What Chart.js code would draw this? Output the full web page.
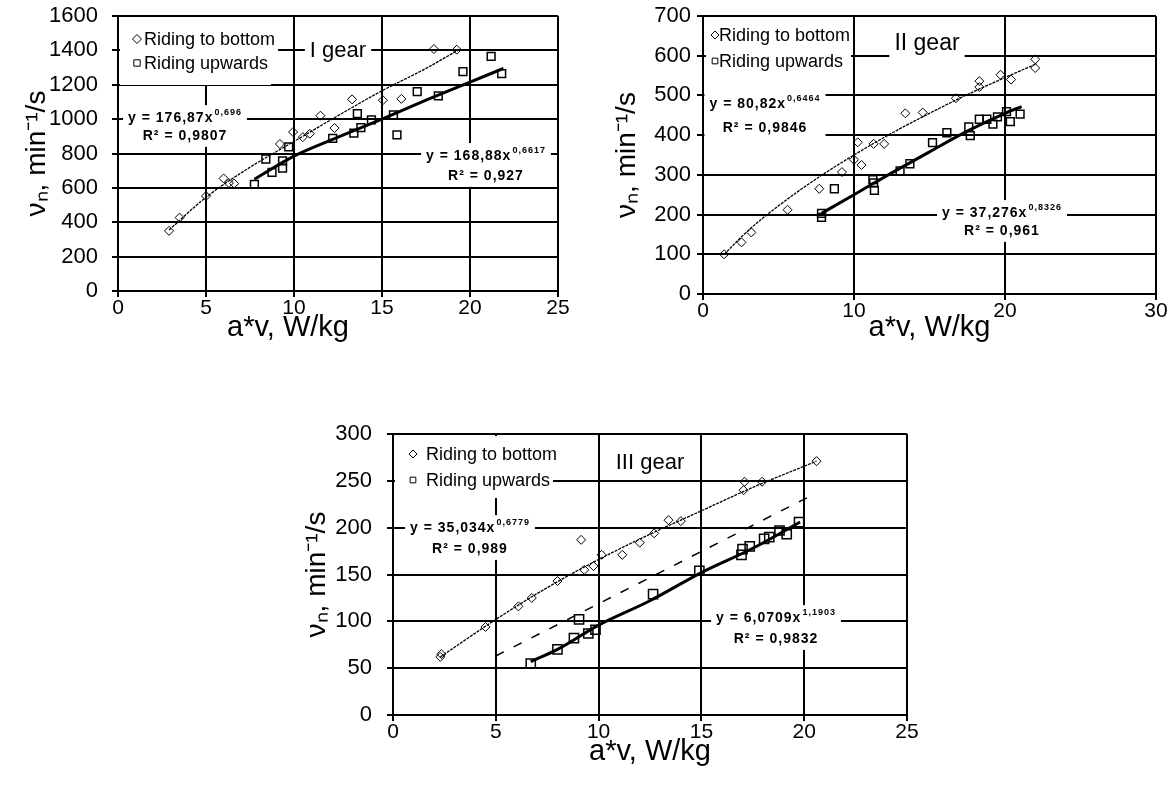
<!DOCTYPE html>
<html>
<head>
<meta charset="utf-8">
<script src="https://cdn.jsdelivr.net/npm/chart.js@4.4.1/dist/chart.umd.min.js"></script>
<style>
  html, body { margin: 0; padding: 0; background: #fff; }
  body { width: 1175px; height: 785px; position: relative; overflow: hidden; }
  canvas { position: absolute; }
</style>
</head>
<body>
<canvas id="g1" width="590" height="345" style="left:0px;top:0px;width:590px;height:345px"></canvas>
<canvas id="g2" width="575" height="345" style="left:600px;top:0px;width:575px;height:345px"></canvas>
<canvas id="g3" width="640" height="385" style="left:290px;top:400px;width:640px;height:385px"></canvas>
<script>
const FONT = '"Liberation Sans", Arial, sans-serif';

// ---- I gear ----
const g1DownX = [2.9, 3.5, 5.0, 6.0, 6.3, 6.6, 9.2, 9.95, 10.5, 10.9, 11.5, 12.3, 13.3, 15.05, 16.1, 17.95, 19.25];
const g1DownY = [350, 427, 553, 655, 628, 625, 855, 925, 895, 915, 1020, 948, 1115, 1110, 1118, 1408, 1404];
const g1UpX = [7.75, 8.4, 8.75, 9.35, 9.35, 9.7, 12.2, 13.4, 13.6, 13.8, 14.4, 15.65, 15.85, 17.0, 18.2, 19.6, 21.2, 21.8];
const g1UpY = [620, 768, 690, 715, 757, 838, 888, 918, 1032, 950, 995, 1025, 908, 1160, 1135, 1277, 1365, 1265];
const g1DownFitX = [2.9, 5, 7.5, 10, 12.5, 15, 17.5, 19.3];
const g1DownFitY = [355, 545, 720, 870, 1020, 1165, 1295, 1400];
const g1UpFitX = [7.75, 10, 12.5, 15, 17.5, 20, 21.9];
const g1UpFitY = [650, 785, 895, 1000, 1110, 1215, 1295];
const g1XTicks = [0, 5, 10, 15, 20, 25];
const g1YTicks = [0, 200, 400, 600, 800, 1000, 1200, 1400, 1600];

// ---- II gear ----
const g2DownX = [1.4, 2.55, 3.2, 5.6, 7.7, 9.2, 10.0, 10.25, 10.5, 11.3, 12.0, 13.4, 14.55, 16.75, 18.3, 18.3, 19.7, 20.4, 22.0, 22.0];
const g2DownY = [100, 130, 155, 212, 265, 307, 338, 382, 325, 378, 378, 455, 457, 493, 536, 521, 552, 540, 591, 569];
const g2UpX = [7.85, 7.85, 8.7, 11.25, 11.3, 11.35, 13.05, 13.7, 15.2, 16.15, 17.6, 17.7, 18.3, 18.8, 19.2, 19.5, 20.1, 20.35, 21.0];
const g2UpY = [193, 203, 265, 288, 280, 261, 310, 328, 381, 406, 421, 399, 440, 440, 428, 446, 459, 434, 453];
const g2DownFitX = [1.4, 3, 5, 7.5, 10, 12.5, 15, 17.5, 20, 22.1];
const g2DownFitY = [100, 160, 222, 290, 350, 405, 455, 502, 545, 580];
const g2UpFitX = [7.85, 10, 12.5, 15, 17.5, 20, 21.1];
const g2UpFitY = [203, 250, 305, 358, 410, 455, 472];
const g2XTicks = [0, 10, 20, 30];
const g2YTicks = [0, 100, 200, 300, 400, 500, 600, 700];

// ---- III gear ----
const g3DownX = [2.3, 2.35, 4.5, 6.1, 6.75, 8.0, 9.15, 9.3, 9.75, 10.15, 11.15, 12.0, 12.7, 13.4, 14.0, 17.05, 17.1, 17.95, 20.6];
const g3DownY = [62, 65, 94, 116, 125, 143, 187, 155, 159, 171, 171, 184, 194, 208, 207, 240, 249, 249, 271];
const g3UpX = [6.7, 8.0, 8.8, 9.05, 9.5, 9.85, 12.65, 14.9, 16.95, 17.0, 17.35, 18.05, 18.3, 18.8, 19.15, 19.75];
const g3UpY = [55, 70, 82, 102, 87, 91, 129, 154, 171, 177, 180, 188, 190, 197, 193, 206];
const g3DownFitX = [2.3, 5, 7.5, 10, 12.5, 15, 17.5, 20.6];
const g3DownFitY = [62, 102, 136, 166, 193, 218, 243, 271];
const g3UpFitX = [6.7, 8, 10, 12.5, 15, 17.5, 19.8];
const g3UpFitY = [57, 70, 96, 122, 152, 178, 206];
const g3DashX = [5, 20.5];
const g3DashY = [63, 236];
const g3XTicks = [0, 5, 10, 15, 20, 25];
const g3YTicks = [0, 50, 100, 150, 200, 250, 300];

const xTitle = 'a*v, W/kg';
const yTitle = 'νₙ, min⁻¹/s';

function pts(xs, ys) {
  return xs.map((x, i) => ({ x: x, y: ys[i] }));
}

// white boxes with text (legend, gear name, trend equations) drawn over the grid
const notesPlugin = {
  id: 'notes',
  beforeDatasetsDraw(chart, args, opts) {
    const ctx = chart.ctx, a = chart.chartArea;
    ctx.save();
    ctx.textBaseline = 'middle';

    // legend
    const L = opts.legend;
    const items = chart.data.datasets.filter(d => d.inLegend);
    ctx.font = L.size + 'px ' + FONT;
    items.forEach((d, i) => {
      const y = a.top + L.dy + i * L.gap;
      const w = ctx.measureText(d.label).width;
      let right = a.left + L.textDx + w + 3;
      if (L.clip) right = a.left + L.clip;
      const top = i === 0 ? a.top + L.top : y - L.gap / 2;
      const bottom = i === items.length - 1 ? a.top + L.bottom : y + L.gap / 2;
      ctx.fillStyle = '#fff';
      ctx.fillRect(a.left + L.left, top, right - a.left - L.left, bottom - top);
    });
    ctx.save();
    if (L.clip) {
      ctx.beginPath();
      ctx.rect(a.left, a.top, L.clip - 1, L.bottom + 2);
      ctx.clip();
    }
    items.forEach((d, i) => {
      const y = a.top + L.dy + i * L.gap;
      ctx.strokeStyle = '#000';
      ctx.fillStyle = 'rgba(0,0,0,0)';
      ctx.lineWidth = 1;
      Chart.helpers.drawPoint(ctx, { pointStyle: d.pointStyle, radius: L.markR, rotation: 0, borderWidth: 1 }, a.left + L.markDx, y);
      ctx.fillStyle = '#000';
      ctx.textAlign = 'left';
      ctx.fillText(d.label, a.left + L.textDx, y + 1);
    });
    ctx.restore();

    // gear name
    const T = opts.title;
    ctx.font = T.size + 'px ' + FONT;
    const tw = ctx.measureText(T.text).width;
    ctx.fillStyle = '#fff';
    ctx.fillRect(a.left + T.dx - tw / 2 - 5, a.top + T.dy - T.size * 0.7, tw + 10, T.size * 1.4);
    ctx.fillStyle = '#000';
    ctx.textAlign = 'center';
    ctx.fillText(T.text, a.left + T.dx, a.top + T.dy + 1);

    // x axis title placed off-centre (I gear only)
    if (opts.xTitle) {
      ctx.font = opts.xTitle.size + 'px ' + FONT;
      ctx.fillStyle = '#000';
      ctx.textAlign = 'center';
      ctx.fillText(xTitle, a.left + opts.xTitle.dx, a.bottom + opts.xTitle.dy);
    }

    // equations
    ctx.letterSpacing = '1px';
    opts.equations.forEach(E => {
      const size = opts.eqSize;
      const widths = E.lines.map(line => {
        ctx.font = 'bold ' + size + 'px ' + FONT;
        let w = ctx.measureText(line[0]).width;
        if (line[1]) {
          ctx.font = 'bold ' + Math.round(size * 0.62) + 'px ' + FONT;
          w += ctx.measureText(line[1]).width + 1;
        }
        return w;
      });
      const maxW = Math.max.apply(null, widths);
      const cx = a.left + E.dx;
      const y0 = a.top + E.dy;
      const y1 = y0 + E.gap * (E.lines.length - 1);
      ctx.fillStyle = '#fff';
      ctx.fillRect(cx - maxW / 2 - 5, y0 - size * 0.85, maxW + 10, y1 - y0 + size * 1.7);
      ctx.fillStyle = '#000';
      ctx.textAlign = 'left';
      E.lines.forEach((line, i) => {
        let x = cx - widths[i] / 2;
        const y = y0 + E.gap * i;
        ctx.font = 'bold ' + size + 'px ' + FONT;
        ctx.fillText(line[0], x, y + 1);
        if (line[1]) {
          x += ctx.measureText(line[0]).width + 1;
          ctx.font = 'bold ' + Math.round(size * 0.62) + 'px ' + FONT;
          ctx.fillText(line[1], x, y - size * 0.35);
        }
      });
    });
    ctx.restore();
  }
};

function xAxis(ticks, height, titlePad, showTitle) {
  return {
    type: 'linear',
    min: ticks[0],
    max: ticks[ticks.length - 1],
    afterBuildTicks: s => { s.ticks = ticks.map(v => ({ value: v })); },
    afterFit: s => { s.height = height; s.paddingLeft = 0; s.paddingRight = 0; },
    grid: { color: '#000', lineWidth: 2, tickLength: 6, tickColor: '#000' },
    border: { color: '#000', width: 2 },
    ticks: { color: '#000', font: { family: FONT, size: 21 }, padding: -1, maxRotation: 0, autoSkip: false,
      callback: v => String(v) },
    title: { display: showTitle, text: xTitle, color: '#000', font: { family: FONT, size: 29 }, padding: { top: 0, bottom: titlePad } }
  };
}

function yAxis(ticks, width, labelPad, titlePad) {
  return {
    type: 'linear',
    min: ticks[0],
    max: ticks[ticks.length - 1],
    afterBuildTicks: s => { s.ticks = ticks.map(v => ({ value: v })); },
    afterFit: s => { s.width = width; s.paddingTop = 0; s.paddingBottom = 0; },
    grid: { color: '#000', lineWidth: 2, tickLength: 6, tickColor: '#000' },
    border: { color: '#000', width: 2 },
    ticks: { color: '#000', font: { family: FONT, size: 22 }, padding: labelPad, autoSkip: false,
      callback: v => String(v) },
    title: { display: true, text: yTitle, color: '#000', font: { family: FONT, size: 28 }, padding: { top: titlePad, bottom: 0 } }
  };
}

function datasets(downX, downY, upX, upY, downFitX, downFitY, upFitX, upFitY, sqR) {
  return [
    { label: 'Riding to bottom', inLegend: true, data: pts(downX, downY), showLine: false,
      pointStyle: 'rectRot', pointRadius: 4.5, pointBorderWidth: 1, borderColor: '#000', backgroundColor: 'rgba(0,0,0,0)' },
    { label: 'Riding upwards', inLegend: true, data: pts(upX, upY), showLine: false,
      pointStyle: 'rect', pointRadius: sqR, pointBorderWidth: 1.5, borderColor: '#000', backgroundColor: 'rgba(0,0,0,0)' },
    { label: 'fit bottom', data: pts(downFitX, downFitY), showLine: true, pointRadius: 0,
      borderColor: '#000', borderWidth: 1.3, borderDash: [3, 1], cubicInterpolationMode: 'monotone' },
    { label: 'fit upwards', data: pts(upFitX, upFitY), showLine: true, pointRadius: 0,
      borderColor: '#000', borderWidth: 3, cubicInterpolationMode: 'monotone' }
  ];
}

function makeChart(id, sets, opts) {
  return new Chart(document.getElementById(id), {
    type: 'scatter',
    data: { datasets: sets },
    options: {
      responsive: false,
      animation: false,
      devicePixelRatio: 1,
      layout: { padding: opts.padding },
      scales: { x: opts.x, y: opts.y },
      plugins: { legend: { display: false }, tooltip: { enabled: false }, notes: opts.notes }
    },
    plugins: [notesPlugin]
  });
}

// I gear
makeChart('g1', datasets(g1DownX, g1DownY, g1UpX, g1UpY, g1DownFitX, g1DownFitY, g1UpFitX, g1UpFitY, 5.5), {
  padding: { top: 16, right: 32, left: 0, bottom: 0 },
  x: xAxis(g1XTicks, 54, 0, false),
  y: yAxis(g1YTicks, 118, 14, 20),
  notes: {
    legend: { size: 18, left: 2, top: 1, bottom: 69, dy: 23, gap: 24, markDx: 19, markR: 4.5, textDx: 26 },
    title: { text: 'I gear', size: 22, dx: 220, dy: 34 },
    xTitle: { size: 29, dx: 170, dy: 37 },
    eqSize: 14,
    equations: [
      { dx: 67, dy: 101, gap: 18, lines: [['y = 176,87x', '0,696'], ['R² = 0,9807']] },
      { dx: 368, dy: 139, gap: 20, lines: [['y = 168,88x', '0,6617'], ['R² = 0,927']] }
    ]
  }
});

// II gear
makeChart('g2', datasets(g2DownX, g2DownY, g2UpX, g2UpY, g2DownFitX, g2DownFitY, g2UpFitX, g2UpFitY, 5.5), {
  padding: { top: 16, right: 19, left: 0, bottom: 0 },
  x: xAxis(g2XTicks, 51, 0, true),
  y: yAxis(g2YTicks, 103, 6, 10),
  notes: {
    legend: { size: 18, left: 3, top: 1, bottom: 72, dy: 19, gap: 26, markDx: 12, markR: 4, textDx: 16, clip: 148 },
    title: { text: 'II gear', size: 23, dx: 224, dy: 27 },
    eqSize: 14,
    equations: [
      { dx: 62, dy: 87, gap: 24, lines: [['y = 80,82x', '0,6464'], ['R² = 0,9846']] },
      { dx: 299, dy: 196, gap: 18, lines: [['y = 37,276x', '0,8326'], ['R² = 0,961']] }
    ]
  }
});

// III gear
const g3Sets = datasets(g3DownX, g3DownY, g3UpX, g3UpY, g3DownFitX, g3DownFitY, g3UpFitX, g3UpFitY, 6.5);
g3Sets.push({ label: 'dashed', data: pts(g3DashX, g3DashY), showLine: true, pointRadius: 0,
  borderColor: '#000', borderWidth: 1.5, borderDash: [9, 11] });
makeChart('g3', g3Sets, {
  padding: { top: 34, right: 23, left: 0, bottom: 0 },
  x: xAxis(g3XTicks, 70, 16, true),
  y: yAxis(g3YTicks, 103, 15, 10),
  notes: {
    legend: { size: 18, left: 2, top: 2, bottom: 64, dy: 20, gap: 26, markDx: 20, markR: 4, textDx: 33 },
    title: { text: 'III gear', size: 22, dx: 257, dy: 28 },
    eqSize: 14,
    equations: [
      { dx: 77, dy: 93, gap: 21, lines: [['y = 35,034x', '0,6779'], ['R² = 0,989']] },
      { dx: 383, dy: 183, gap: 21, lines: [['y = 6,0709x', '1,1903'], ['R² = 0,9832']] }
    ]
  }
});
</script>
</body>
</html>
